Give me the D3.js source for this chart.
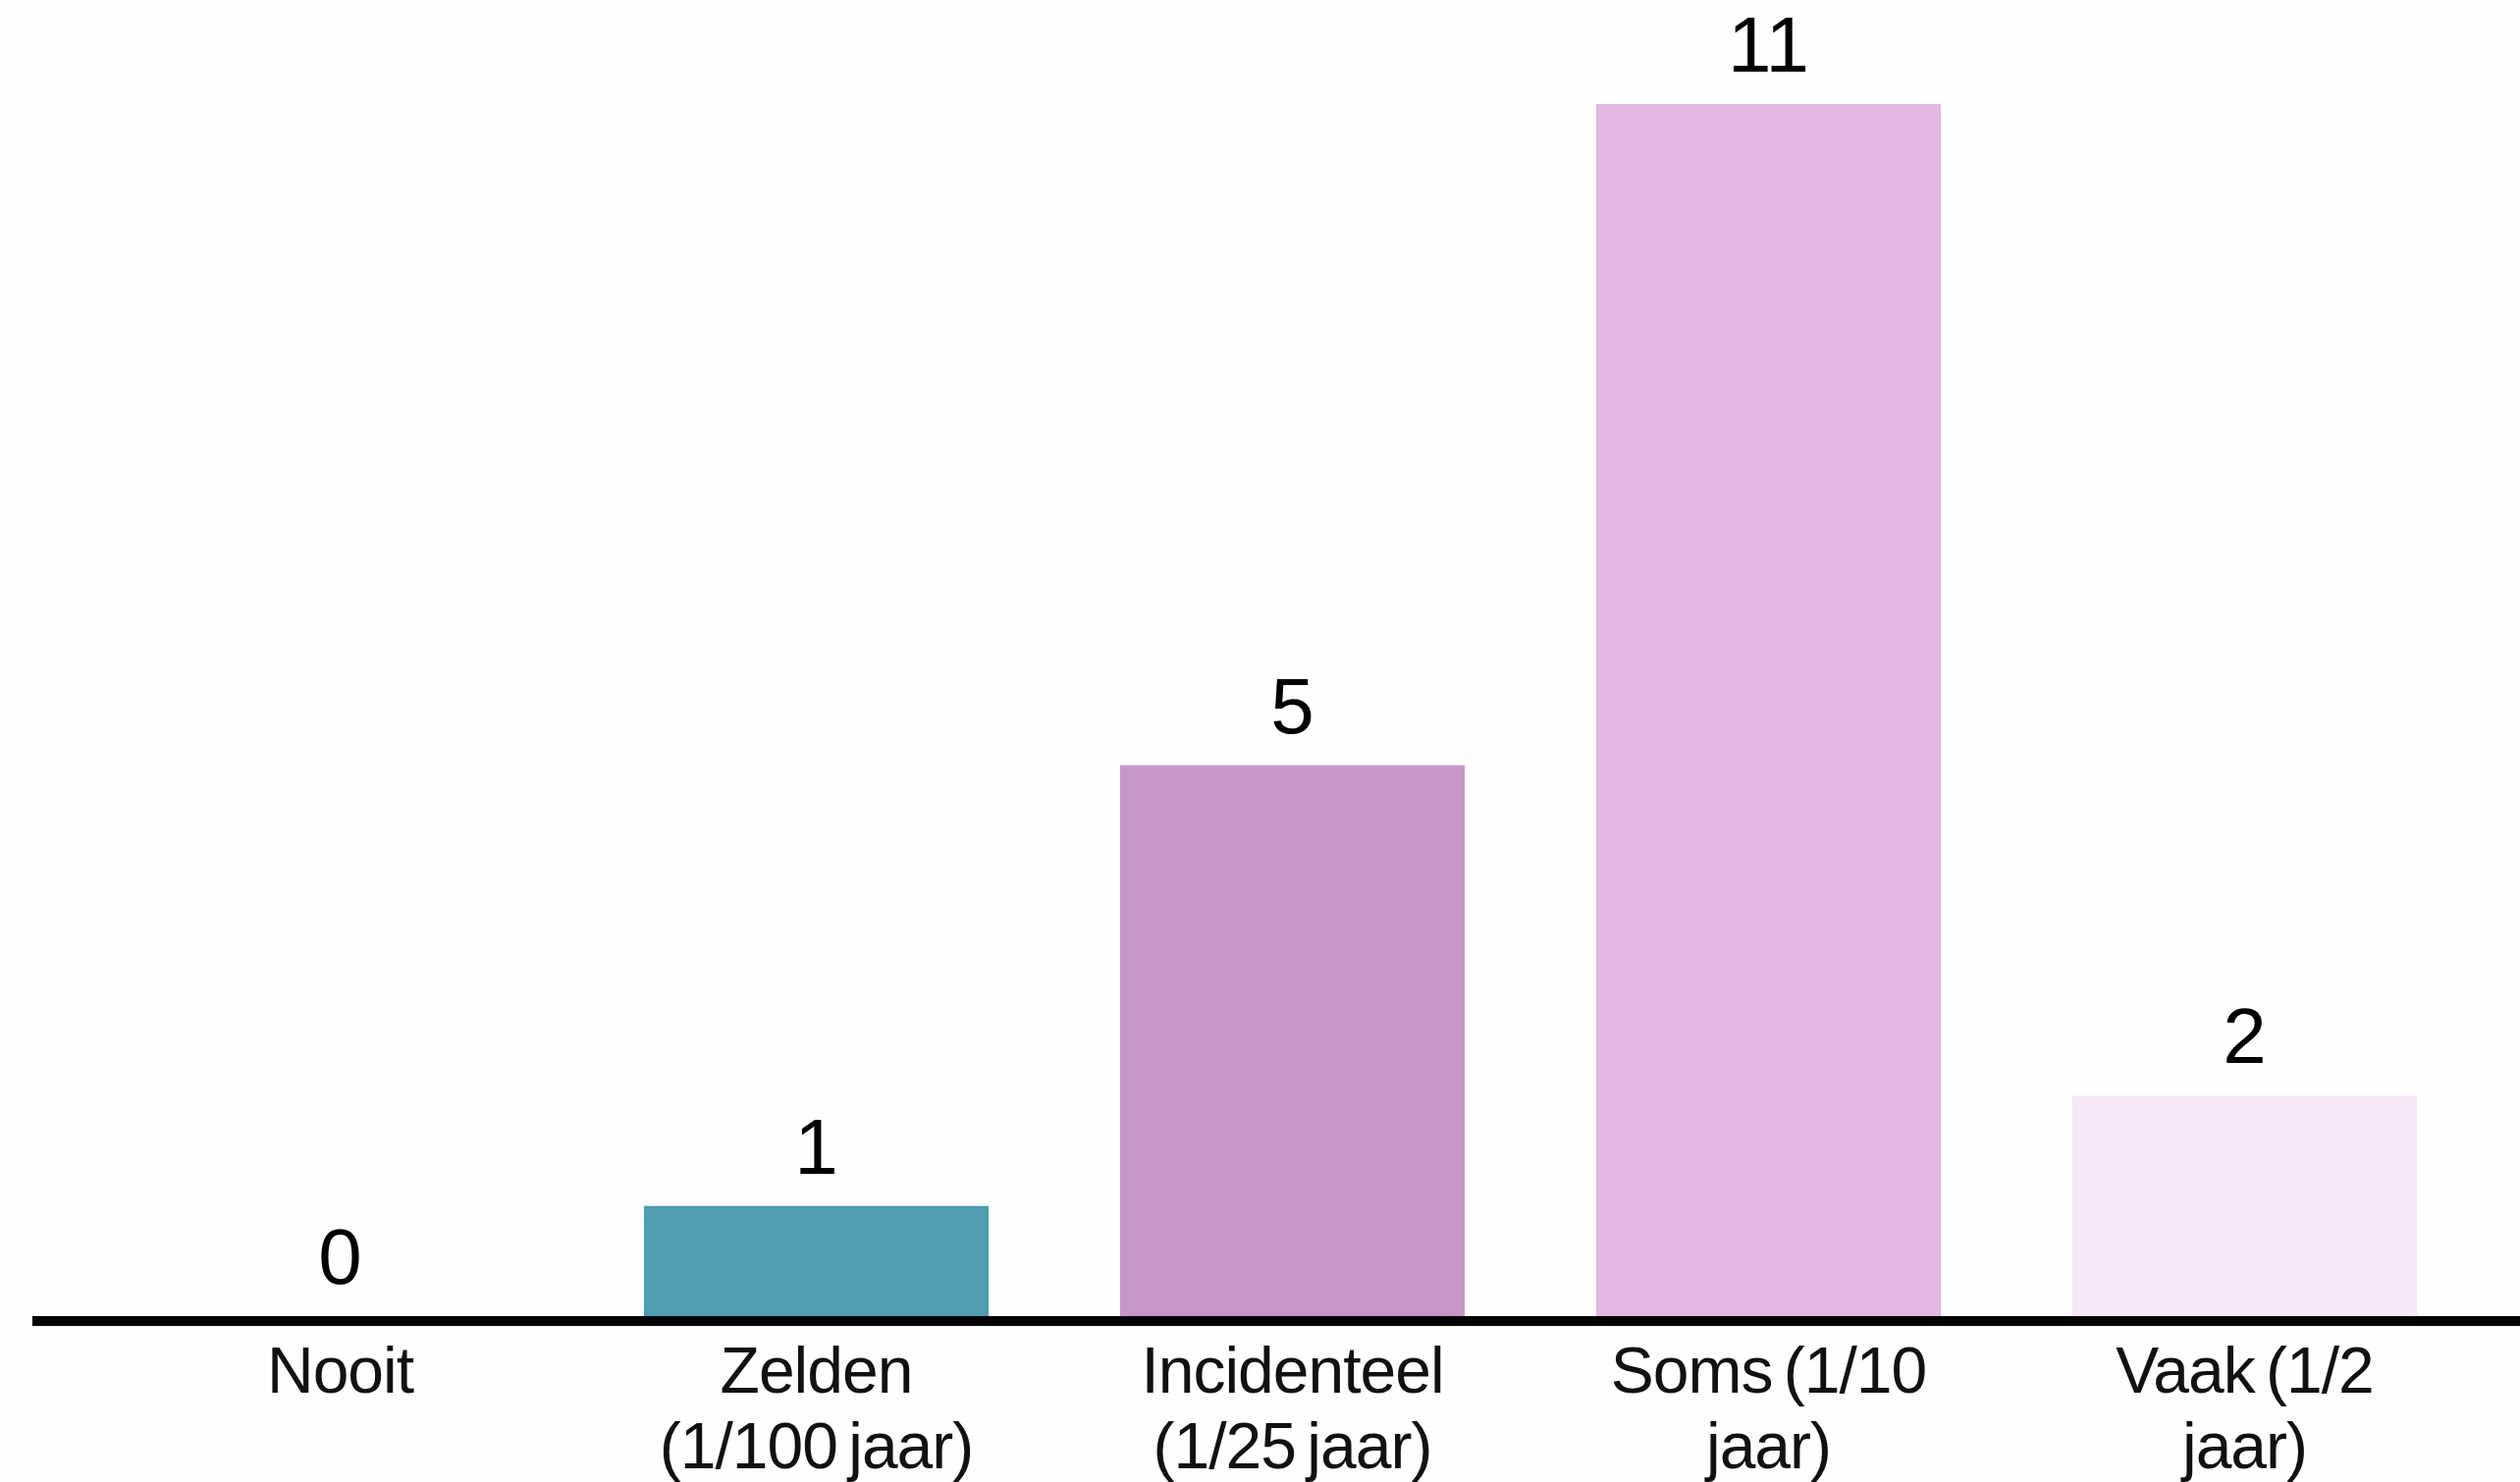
<!DOCTYPE html>
<html>
<head>
<meta charset="utf-8">
<script src="https://cdn.jsdelivr.net/npm/d3@7"></script>
<style>
  html, body { margin: 0; padding: 0; background: #fefefe; }
  svg { display: block; }
</style>
</head>
<body>
<svg id="chart" width="2567" height="1510"></svg>
<script>
const categories = ["Nooit", "Zelden (1/100 jaar)", "Incidenteel (1/25 jaar)", "Soms (1/10 jaar)", "Vaak (1/2 jaar)"];
const tickLines = [["Nooit"], ["Zelden", "(1/100 jaar)"], ["Incidenteel", "(1/25 jaar)"], ["Soms (1/10", "jaar)"], ["Vaak (1/2", "jaar)"]];
const values = [0, 1, 5, 11, 2];
const colors = ["#4f9db0", "#4f9db0", "#c896c9", "#e2b7e2", "#f8e7f8"];

const W = 2567, H = 1510;
const baseY = 1341, topY = 106;
const svg = d3.select("#chart");

const x = d3.scaleBand()
  .domain(categories)
  .range([104, 2529])
  .paddingInner(0.276)
  .paddingOuter(0.138);

const y = d3.scaleLinear()
  .domain([0, 11])
  .range([baseY, topY]);

// bars
svg.append("g").selectAll("rect")
  .data(categories)
  .join("rect")
  .attr("x", d => x(d))
  .attr("width", x.bandwidth())
  .attr("y", (d, i) => y(values[i]))
  .attr("height", (d, i) => baseY - y(values[i]))
  .attr("fill", (d, i) => colors[i]);

// value labels
svg.append("g").selectAll("text")
  .data(categories)
  .join("text")
  .attr("x", d => x(d) + x.bandwidth() / 2)
  .attr("y", (d, i) => y(values[i]) - 33)
  .attr("text-anchor", "middle")
  .attr("font-family", "'Liberation Sans', Arial, sans-serif")
  .attr("font-size", 80)
  .attr("fill", "#000")
  .text((d, i) => values[i]);

// axis baseline
svg.append("line")
  .attr("x1", 33).attr("x2", W)
  .attr("y1", baseY + 5).attr("y2", baseY + 5)
  .attr("stroke", "#000")
  .attr("stroke-width", 10);

// category axis
const axis = svg.append("g")
  .attr("transform", `translate(0,${baseY + 10})`)
  .call(d3.axisBottom(x).tickSize(0).tickPadding(0));
axis.select(".domain").remove();
axis.selectAll(".tick text").each(function(d, i) {
  const t = d3.select(this);
  t.text(null)
    .attr("y", 0)
    .attr("dy", null)
    .attr("fill", "#111")
    .attr("font-family", "'Liberation Sans', Arial, sans-serif")
    .attr("font-size", 66)
    .attr("letter-spacing", "-1px")
    .attr("word-spacing", "-6px");
  tickLines[i].forEach((line, k) => {
    t.append("tspan")
      .attr("x", 0)
      .attr("y", 68 + k * 77)
      .text(line);
  });
});
</script>
</body>
</html>
